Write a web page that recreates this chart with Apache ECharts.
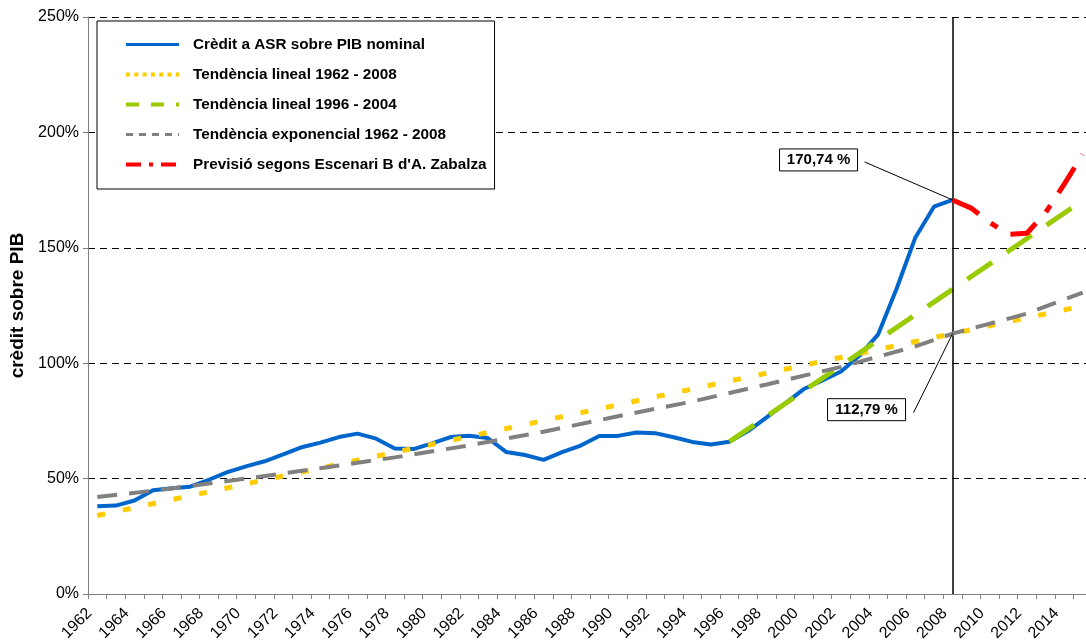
<!DOCTYPE html>
<html>
<head>
<meta charset="utf-8">
<script src="https://cdn.jsdelivr.net/npm/echarts@6/dist/echarts.min.js"></script>
<style>
  html, body { margin: 0; padding: 0; background: #fff; }
  #chart { width: 1086px; height: 641px; }
</style>
</head>
<body>
<div id="chart"></div>
<script>
const years = [
  '1962', '1963', '1964', '1965', '1966', '1967', '1968', '1969', '1970', '1971',
  '1972', '1973', '1974', '1975', '1976', '1977', '1978', '1979', '1980', '1981',
  '1982', '1983', '1984', '1985', '1986', '1987', '1988', '1989', '1990', '1991',
  '1992', '1993', '1994', '1995', '1996', '1997', '1998', '1999', '2000', '2001',
  '2002', '2003', '2004', '2005', '2006', '2007', '2008', '2009', '2010', '2011',
  '2012', '2013', '2014', '2015'
]
// crèdit a ASR sobre PIB, 1962 - 2008
const credit = [
  38.0, 38.3, 40.5, 45.0, 45.8, 46.5, 49.5, 52.8, 55.3, 57.5,
  60.5, 63.6, 65.6, 68.0, 69.5, 67.3, 63.0, 62.8, 65.3, 68.0,
  68.6, 67.6, 61.5, 60.2, 58.1, 61.5, 64.3, 68.5, 68.5, 70.0,
  69.7, 67.9, 65.9, 64.8, 66.0, 70.6, 76.5, 82.6, 88.8, 92.5,
  96.4, 103.3, 112.5, 132.5, 154.5, 167.8, 170.74
]
// previsió escenari B, 2008 - 2015
const forecastYears = ['2008', '2009', '2010', '2011', '2012', '2013', '2014', '2015']
const forecast = [170.74, 167.2, 161.0, 155.8, 156.3, 165.2, 177.5, 190.5]
// tendències (punts llegits de la línia)
const linTrendYears = ['1962', '2015']
const linTrend = [34.0, 124.8]
const lin9604Years = ['1996', '2015']
const lin9604 = [66.0, 170.5]
const expTrendYears = ['1962', '1966', '1970', '1974', '1978', '1982', '1986', '1990',
  '1994', '1998', '2002', '2006', '2008', '2012', '2015']
const expTrend = [42.0, 45.7, 50.0, 54.5, 59.2, 64.4, 70.3, 77.0,
  83.4, 90.8, 98.4, 107.3, 112.79, 121.5, 130.6]
const yTicks = [0, 50, 100, 150, 200, 250]

const pairs = (xs, vs) => xs.map((x, i) => [x, vs[i]])
const font = '"Liberation Sans", Arial, sans-serif'

const names = [
  'Crèdit a ASR sobre PIB nominal',
  'Tendència lineal 1962 - 2008',
  'Tendència lineal 1996 - 2004',
  'Tendència exponencial 1962 - 2008',
  "Previsió segons Escenari B d'A. Zabalza"
]

const chart = echarts.init(document.getElementById('chart'))
chart.setOption({
  animation: false,
  textStyle: { fontFamily: font },
  grid: { left: 88, right: -6, top: 17, bottom: 47, outerBoundsMode: 'none', containLabel: false },
  legend: {
    orient: 'vertical',
    left: 97,
    top: 21,
    backgroundColor: '#fff',
    borderColor: '#000',
    borderWidth: 1,
    borderRadius: 0,
    padding: [16, 8, 17, 27],
    itemWidth: 53,
    itemHeight: 14,
    itemGap: 15,
    selectedMode: false,
    itemStyle: { opacity: 0 },
    textStyle: { fontFamily: font, fontSize: 15.3, fontWeight: 'bold', color: '#000', padding: [0, 0, 0, 9] },
    data: [
      { name: names[0], lineStyle: { color: '#0066cc', width: 3, type: 'solid' } },
      { name: names[1], lineStyle: { color: '#ffcc00', width: 4, type: [4, 4.3] } },
      { name: names[2], lineStyle: { color: '#99cc00', width: 4, type: [13, 12] } },
      { name: names[3], lineStyle: { color: '#808080', width: 3, type: [7, 6] } },
      { name: names[4], lineStyle: { color: '#ff0000', width: 4, type: [15, 8, 4, 8] } }
    ]
  },
  xAxis: {
    type: 'category',
    data: years,
    boundaryGap: true,
    axisLine: { lineStyle: { color: '#808080', width: 1 } },
    axisTick: { show: true, interval: 0, length: 5, lineStyle: { color: '#808080' } },
    axisLabel: {
      interval: 1, rotate: 45, margin: 9, fontSize: 16, color: '#000', fontFamily: font,
      padding: [0, 11, 0, 0]
    },
    splitLine: { show: false }
  },
  yAxis: {
    type: 'value',
    min: yTicks[0],
    max: yTicks[yTicks.length - 1],
    interval: 50,
    name: 'crèdit sobre PIB',
    nameLocation: 'middle',
    nameGap: 58,
    nameTextStyle: { fontFamily: font, fontSize: 19, fontWeight: 'bold', color: '#000' },
    axisLine: { show: true, lineStyle: { color: '#808080', width: 1 } },
    axisTick: { show: true, length: 5, lineStyle: { color: '#808080' } },
    axisLabel: { margin: 9, fontSize: 16, color: '#000', fontFamily: font, formatter: '{value}%' },
    splitLine: { show: true, lineStyle: { color: '#000', width: 1, type: [7, 5] } }
  },
  series: [
    {
      name: names[0],
      type: 'line',
      data: credit,
      symbol: 'none',
      z: 2,
      lineStyle: { color: '#0066cc', width: 4 },
      itemStyle: { color: '#0066cc' },
      markLine: {
        silent: true,
        symbol: 'none',
        label: { show: false },
        lineStyle: { color: '#000', width: 1.5, type: 'solid' },
        data: [{ xAxis: '2008' }]
      }
    },
    {
      name: names[1],
      type: 'line',
      data: pairs(linTrendYears, linTrend),
      symbol: 'none',
      z: 3,
      lineStyle: { color: '#ffcc00', width: 5, type: [8, 18] },
      itemStyle: { color: '#ffcc00' }
    },
    {
      name: names[2],
      type: 'line',
      data: pairs(lin9604Years, lin9604),
      symbol: 'none',
      z: 4,
      lineStyle: { color: '#99cc00', width: 5, type: [30, 18] },
      itemStyle: { color: '#99cc00' }
    },
    {
      name: names[3],
      type: 'line',
      data: pairs(expTrendYears, expTrend),
      symbol: 'none',
      z: 5,
      lineStyle: { color: '#808080', width: 4, type: [20, 12] },
      itemStyle: { color: '#808080' }
    },
    {
      name: names[4],
      type: 'line',
      data: pairs(forecastYears, forecast),
      symbol: 'none',
      z: 6,
      lineStyle: { color: '#ff0000', width: 5, type: [30, 15, 8, 15] },
      itemStyle: { color: '#ff0000' }
    }
  ]
})

// annotation boxes with leader lines, anchored to the data points
const p1 = chart.convertToPixel({ gridIndex: 0 }, ['2008', 170.74])
const p2 = chart.convertToPixel({ gridIndex: 0 }, ['2008', 112.79])
const boxStyle = { fill: '#fff', stroke: '#000', lineWidth: 1 }
const boxText = (x, y, text) => ({
  type: 'group',
  x: x, y: y,
  z: 100,
  children: [
    { type: 'rect', shape: { x: 0, y: 0, width: 78, height: 22 }, style: boxStyle },
    {
      type: 'text', x: 39, y: 11,
      style: { text: text, fill: '#000', font: 'bold 15px ' + font, align: 'center', verticalAlign: 'middle' }
    }
  ]
})
chart.setOption({
  graphic: [
    { type: 'line', z: 100, shape: { x1: p1[0] - 88, y1: p1[1] - 38, x2: p1[0], y2: p1[1] }, style: { stroke: '#000', lineWidth: 1 } },
    boxText(p1[0] - 173, p1[1] - 51, '170,74 %'),
    { type: 'line', z: 100, shape: { x1: p2[0] - 39, y1: p2[1] + 79, x2: p2[0], y2: p2[1] }, style: { stroke: '#000', lineWidth: 1 } },
    boxText(p2[0] - 125, p2[1] + 65, '112,79 %')
  ]
})
</script>
</body>
</html>
